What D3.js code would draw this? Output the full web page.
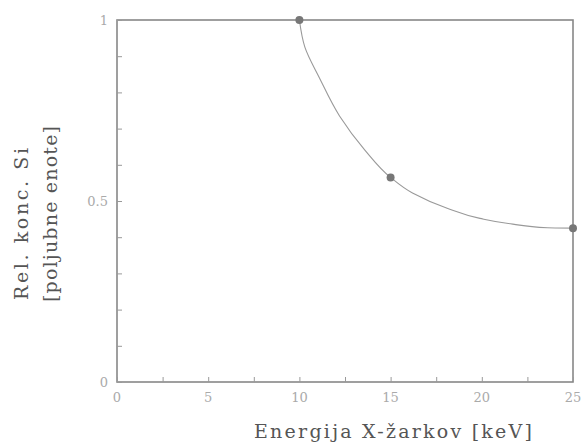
<!DOCTYPE html>
<html>
<head>
<meta charset="utf-8">
<script src="https://cdn.jsdelivr.net/npm/d3@7"></script>
<style>
  body { margin: 0; background: #fff; }
  text { font-family: "DejaVu Serif", "Liberation Serif", serif; }
</style>
</head>
<body>
<svg width="584" height="445"></svg>
<script>
var energy = [10, 15, 25];
var conc = [1, 0.565, 0.425];
// the drawn curve through them
var fitEnergy = [10, 10.3, 11.1, 12.2, 13.6, 15, 16.2, 18.1, 19.9, 21.7, 23.6, 25];
var fitConc = [1, 0.925, 0.84, 0.735, 0.64, 0.565, 0.522, 0.48, 0.452, 0.436, 0.426, 0.425];
var xTickLabels = [0, 5, 10, 15, 20, 25];
var yTickLabels = [0, 0.5, 1];

var svg = d3.select('svg');

var scaleX = d3.scaleLinear().domain([0, 25]).range([117, 573]);
var scaleY = d3.scaleLinear().domain([0, 1]).range([382, 20]);

var points = energy.map(function(e, i) { return {x: e, y: conc[i]}; });
var fit = fitEnergy.map(function(e, i) { return {x: e, y: fitConc[i]}; });

// frame
svg.append('rect')
  .attr('x', scaleX(0))
  .attr('y', scaleY(1))
  .attr('width', scaleX(25) - scaleX(0))
  .attr('height', scaleY(0) - scaleY(1))
  .attr('fill', 'none')
  .attr('stroke', '#888')
  .attr('stroke-width', 1.6);

// inward ticks
svg.append('g')
  .attr('transform', 'translate(0,' + scaleY(0) + ')')
  .call(d3.axisBottom(scaleX).tickValues(d3.range(0, 25.1, 2.5)).tickSize(-5).tickFormat(''))
  .call(function(g) {
    g.select('.domain').remove();
    g.selectAll('line').attr('stroke', '#999');
  });

svg.append('g')
  .attr('transform', 'translate(' + scaleX(0) + ',0)')
  .call(d3.axisLeft(scaleY).tickValues(d3.range(0, 1.01, 0.1)).tickSize(-5).tickFormat(''))
  .call(function(g) {
    g.select('.domain').remove();
    g.selectAll('line').attr('stroke', '#999');
  });

// tick labels
svg.selectAll('.xlab')
  .data(xTickLabels)
  .enter()
  .append('text')
  .attr('class', 'xlab')
  .attr('x', function(d) { return scaleX(d); })
  .attr('y', 402)
  .attr('text-anchor', 'middle')
  .attr('font-size', 13)
  .attr('fill', '#aaa')
  .text(function(d) { return d; });

svg.selectAll('.ylab')
  .data(yTickLabels)
  .enter()
  .append('text')
  .attr('class', 'ylab')
  .attr('x', 108)
  .attr('y', function(d) { return scaleY(d) + 5; })
  .attr('text-anchor', 'end')
  .attr('font-size', 13)
  .attr('fill', '#aaa')
  .text(function(d) { return d; });

// curve (x as a function of y, so the steep start stays smooth)
var line = d3.line()
  .x(function(d) { return scaleX(d.x); })
  .y(function(d) { return scaleY(d.y); })
  .curve(d3.curveMonotoneY);

svg.append('path')
  .datum(fit.slice().reverse())
  .attr('d', line)
  .attr('fill', 'none')
  .attr('stroke', '#999')
  .attr('stroke-width', 1.1);

svg.selectAll('circle')
  .data(points)
  .enter()
  .append('circle')
  .attr('cx', function(d) { return scaleX(d.x); })
  .attr('cy', function(d) { return scaleY(d.y); })
  .attr('r', 4)
  .attr('fill', '#777');

// axis titles
svg.append('text')
  .attr('x', 393)
  .attr('y', 438)
  .attr('text-anchor', 'middle')
  .attr('font-size', 19)
  .attr('textLength', 278)
  .attr('lengthAdjust', 'spacing')
  .attr('fill', '#555')
  .text('Energija X-žarkov [keV]');

svg.append('text')
  .attr('transform', 'rotate(270)')
  .attr('x', -224)
  .attr('y', 28)
  .attr('text-anchor', 'middle')
  .attr('font-size', 19)
  .attr('textLength', 152)
  .attr('lengthAdjust', 'spacing')
  .attr('fill', '#555')
  .text('Rel. konc. Si');

svg.append('text')
  .attr('transform', 'rotate(270)')
  .attr('x', -214)
  .attr('y', 57)
  .attr('text-anchor', 'middle')
  .attr('font-size', 19)
  .attr('textLength', 176)
  .attr('lengthAdjust', 'spacing')
  .attr('fill', '#555')
  .text('[poljubne enote]');
</script>
</body>
</html>
